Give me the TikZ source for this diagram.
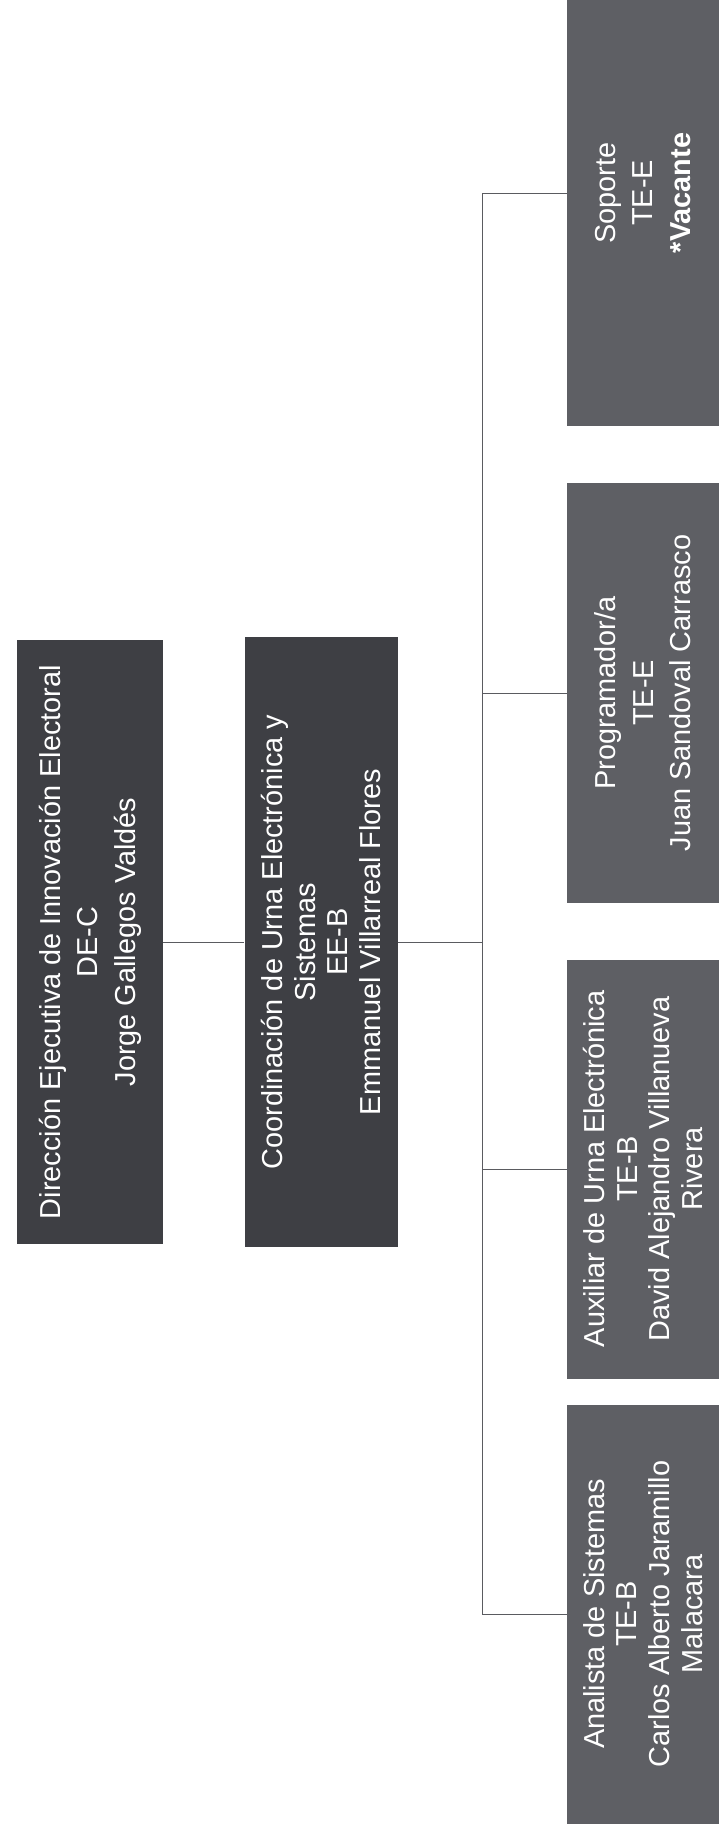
\documentclass[tikz,border=0pt]{standalone}
\usepackage{fontspec}
\setmainfont{Liberation Sans}
\usepackage{xcolor}
\usepackage{tikz}
\usetikzlibrary{positioning}
\definecolor{headgray}{HTML}{3E3F44}
\definecolor{staffgray}{HTML}{5E5F64}
\definecolor{linkgray}{HTML}{5A5B60}
\tikzset{
org box/.style={
  rectangle,
  rotate=90,
  text=white,
  align=center,
  inner sep=4pt,
  font=\fontsize{29}{33}\selectfont
},
wide lines/.style={font=\fontsize{29}{37.5}\selectfont},
head box/.style={org box, fill=headgray},
staff box/.style={org box, fill=staffgray, minimum height=152bp},
org line/.style={draw=linkgray, line width=0.9bp}
}
\begin{document}
\begin{tikzpicture}[x=1bp,y=-1bp]
\useasboundingbox (0,0) rectangle (720,1832);
% rotated org chart: heads on the left, staff on the right
\node[head box, wide lines, minimum width=604bp, minimum height=146bp] (dir) at (90,942)
  {Dirección Ejecutiva de Innovación Electoral\\DE-C\\Jorge Gallegos Valdés};
\node[head box, minimum width=610bp, minimum height=153bp] (coord) at (321,942)
  {Coordinación de Urna Electrónica y\\Sistemas\\EE-B\\Emmanuel Villarreal Flores};
\node[staff box, minimum width=419bp] (ana) at (643,1614)
  {Analista de Sistemas\\TE-B\\Carlos Alberto Jaramillo\\Malacara};
\node[staff box, minimum width=419bp] (aux) at (643,1169)
  {Auxiliar de Urna Electrónica\\TE-B\\David Alejandro Villanueva\\Rivera};
\node[staff box, wide lines, minimum width=420bp] (prog) at (643,693)
  {Programador/a\\TE-E\\Juan Sandoval Carrasco};
\node[staff box, wide lines, minimum width=466bp] (sop) at (643,193)
  {Soporte\\TE-E\\\textbf{*Vacante}};
\coordinate (bus) at (482,942);
\draw[org line] (dir.south) -- (coord.north);
\draw[org line] (coord.south) -- (bus);
\draw[org line] (bus |- sop.north) -- (bus |- ana.north);
\foreach \n in {ana,aux,prog,sop}
  \draw[org line] (\n.north) -- (bus |- \n.north);
\end{tikzpicture}
\end{document}
